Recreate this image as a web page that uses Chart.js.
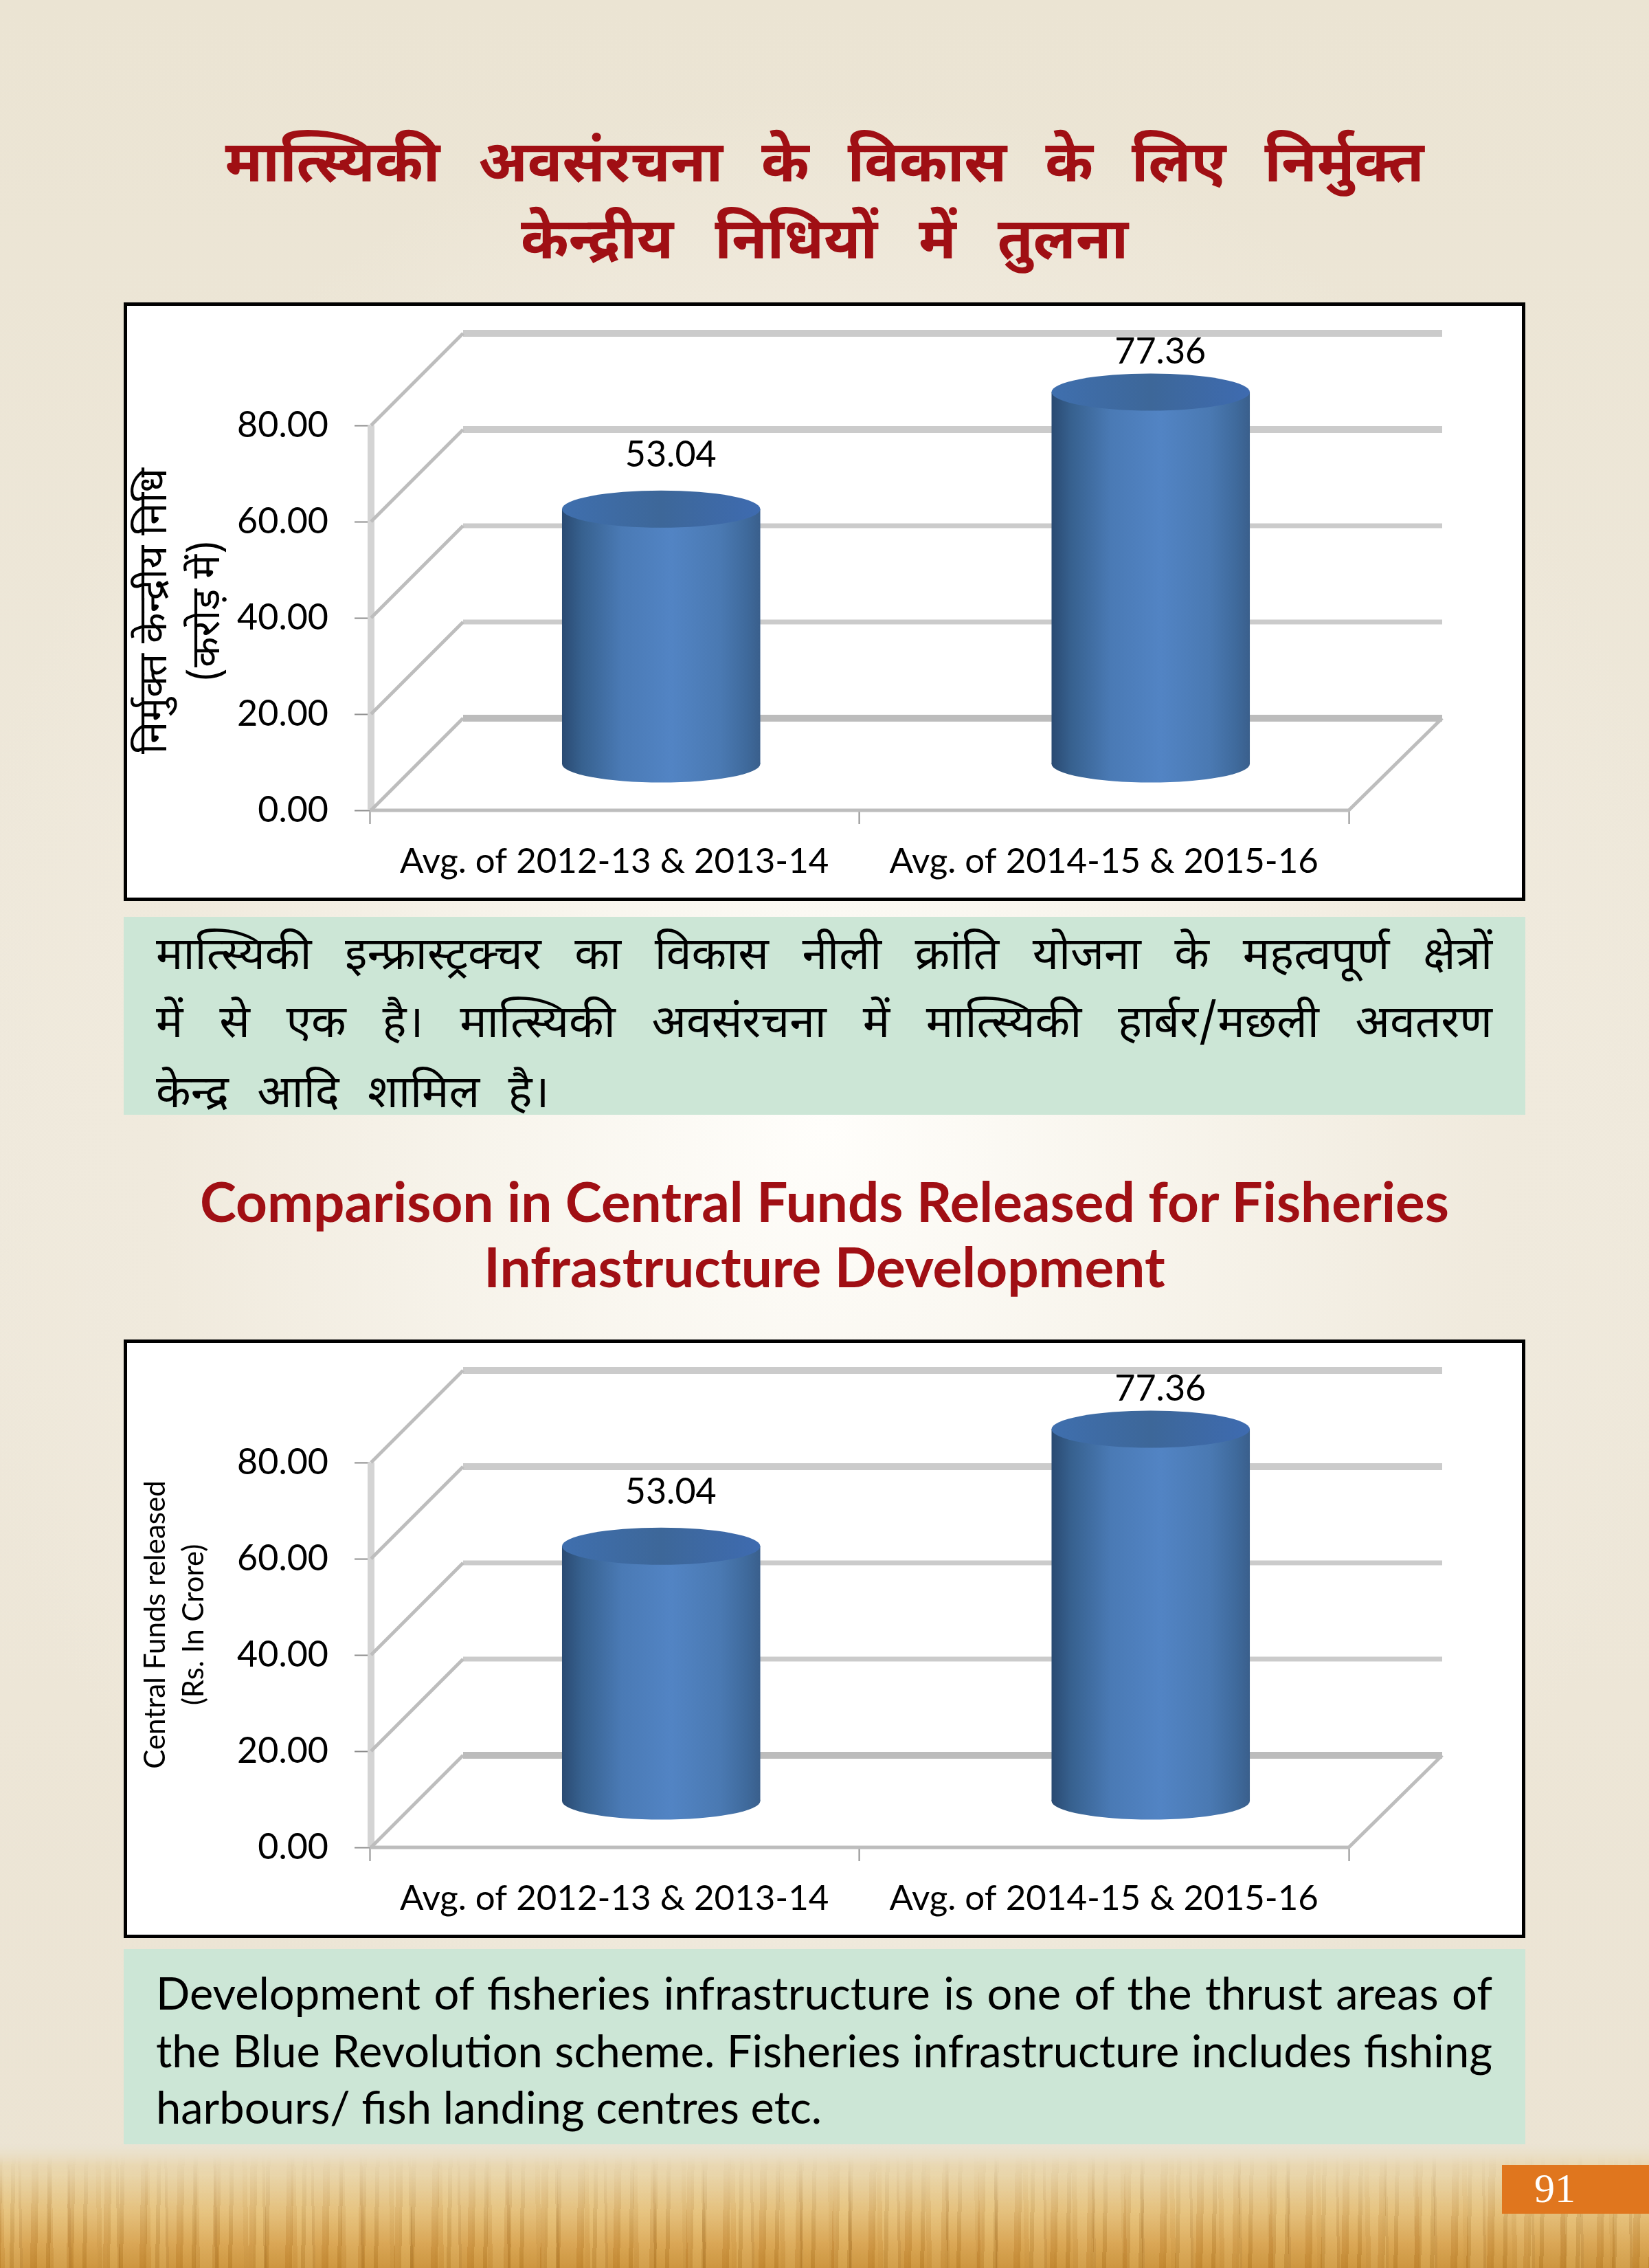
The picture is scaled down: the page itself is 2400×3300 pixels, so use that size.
<!DOCTYPE html>
<html>
<head>
<meta charset="utf-8">
<script src="https://cdn.jsdelivr.net/npm/chart.js@4"></script>
<style>
  html, body { margin: 0; padding: 0; }
  body {
    position: relative; width: 2400px; height: 3300px; overflow: hidden;
    background:
      radial-gradient(ellipse 1300px 1500px at 1200px 1640px, #fffefb 0%, #f8f5ed 35%, #f0eadd 75%, rgba(237,230,214,0) 100%),
      linear-gradient(#ebe4d3, #efe9dc 50%, #ebe3d2);
  }
  #wheat {
    position: absolute; left: 0; top: 3120px; width: 2400px; height: 180px;
    background: linear-gradient(rgba(233,222,196,1) 0%, rgba(233,213,170,1) 25%, #e3bd78 55%, #d7a14e 80%, #c98f35 100%);
    -webkit-mask-image: linear-gradient(transparent 0, #000 30px);
  }
  #wheat::before {
    content: ""; position: absolute; inset: 0;
    background:
      repeating-linear-gradient(91deg, rgba(150,95,20,.16) 0 4px, rgba(255,230,160,.10) 4px 17px, rgba(120,75,10,.12) 17px 23px, rgba(255,240,190,.08) 23px 47px, rgba(160,100,30,.14) 47px 53px),
      repeating-linear-gradient(89deg, rgba(170,110,30,.12) 0 7px, rgba(255,235,170,.10) 7px 29px, rgba(130,80,20,.14) 29px 33px, rgba(0,0,0,0) 33px 71px);
    -webkit-mask-image: linear-gradient(transparent 15px, rgba(0,0,0,.45) 60px, #000 120px);
  }
  .abs { position: absolute; white-space: nowrap; }
  .box { position: absolute; left: 180px; width: 2030px; height: 861px; border: 5px solid #000; background: #fff; }
  .box canvas { display: block; }
  .note { position: absolute; left: 180px; width: 2040px; background: #cce6d6; }
  .line { position: absolute; left: 47px; width: 1945px; color: #000; }
  .just { white-space: normal; text-align: justify; text-align-last: justify; }
  .hi { font-family: "Noto Sans Devanagari", "Noto Sans", "Lohit Devanagari", FreeSans, sans-serif; }
  .en { font-family: Lato, "Open Sans", sans-serif; }
  .title { left: 0; width: 2400px; text-align: center; color: #a00f14; }
  #pageno { position: absolute; left: 2186px; top: 3150px; width: 214px; height: 71px; background: #e0761e; }
  #pageno span { position: absolute; left: 0; width: 154px; text-align: center; top: 0; color: #fff; font: 60px "Liberation Serif", serif; line-height: 68px; }
</style>
</head>
<body>
<div id="wheat"></div>

<div class="abs title hi" style="top:194px;font-size:84px;font-weight:700;line-height:100px;word-spacing:34px">मात्स्यिकी अवसंरचना के विकास के लिए निर्मुक्त</div>
<div class="abs title hi" style="top:306px;font-size:84px;font-weight:700;line-height:100px;word-spacing:38px">केन्द्रीय निधियों में तुलना</div>

<div class="box" style="top:440px"><canvas id="chartHindi" width="2030" height="861"></canvas></div>

<div class="note" style="top:1334px;height:288px">
  <div class="line just hi" style="top:24px;font-size:66px;line-height:72px">मात्स्यिकी इन्फ्रास्ट्रक्चर का विकास नीली क्रांति योजना के महत्वपूर्ण क्षेत्रों</div>
  <div class="line just hi" style="top:123px;font-size:66px;line-height:72px">में से एक है। मात्स्यिकी अवसंरचना में मात्स्यिकी हार्बर/मछली अवतरण</div>
  <div class="line hi" style="top:225px;font-size:66px;line-height:72px;word-spacing:24px">केन्द्र आदि शामिल है।</div>
</div>

<div class="abs title en" style="top:1701px;font-size:80px;font-weight:700;line-height:92px">Comparison in Central Funds Released for Fisheries</div>
<div class="abs title en" style="top:1796px;font-size:80px;font-weight:700;line-height:92px">Infrastructure Development</div>

<div class="box" style="top:1949px"><canvas id="chartEnglish" width="2030" height="861"></canvas></div>

<div class="note" style="top:2836px;height:284px">
  <div class="line just en" style="top:28px;font-size:65px;line-height:70px">Development of fisheries infrastructure is one of the thrust areas of</div>
  <div class="line just en" style="top:112px;font-size:65px;line-height:70px">the Blue Revolution scheme. Fisheries infrastructure includes fishing</div>
  <div class="line en" style="top:194px;font-size:65px;line-height:70px">harbours/ fish landing centres etc.</div>
</div>

<div id="pageno"><span>91</span></div>

<script>
// chart data
const categories = ['Avg. of 2012-13 & 2013-14', 'Avg. of 2014-15 & 2015-16'];
const fundsReleased = [53.04, 77.36];
const tickValues = [0, 20, 40, 60, 80];
const yTitleHindi = ['निर्मुक्त केन्द्रीय निधि', '(करोड़ में)'];
const yTitleEnglish = ['Central Funds released', '(Rs. In Crore)'];

// depth of the fake 3D box, back wall is shifted by this much
const backDx = 136;
const backDy = -134;
const barPct = 0.405;
const capRy = 27;

// Draws walls and cylinder caps around the normal bars
const box3d = {
  id: 'box3d',
  beforeDatasetsDraw(chart) {
    const { ctx, chartArea: area, scales: { y } } = chart;
    const opts = chart.options.plugins.box3d;
    ctx.save();
    ctx.lineCap = 'butt';

    // left wall
    ctx.strokeStyle = '#d4d4d4';
    ctx.lineWidth = 10;
    ctx.beginPath();
    ctx.moveTo(area.left + 2, y.getPixelForValue(80));
    ctx.lineTo(area.left + 2, y.getPixelForValue(0));
    ctx.stroke();

    tickValues.forEach(v => {
      const py = y.getPixelForValue(v);
      // back wall line
      ctx.strokeStyle = v === 0 ? '#bcbcbc' : '#cbcbcb';
      ctx.lineWidth = v === 40 || v === 20 ? 7 : 10;
      ctx.beginPath();
      ctx.moveTo(area.left + backDx, py + backDy);
      ctx.lineTo(area.right + backDx, py + backDy);
      ctx.stroke();
      // diagonal on the left wall
      ctx.strokeStyle = '#bdbdbd';
      ctx.lineWidth = 5;
      ctx.beginPath();
      ctx.moveTo(area.left + 2, py);
      ctx.lineTo(area.left + backDx, py + backDy);
      ctx.stroke();
    });

    // floor
    const y0 = y.getPixelForValue(0);
    ctx.strokeStyle = '#bdbdbd';
    ctx.lineWidth = 5;
    ctx.beginPath();
    ctx.moveTo(area.left, y0);
    ctx.lineTo(area.right, y0);
    ctx.lineTo(area.right + backDx, y0 + backDy);
    ctx.stroke();
    ctx.restore();

    // axis title, two rotated lines
    ctx.save();
    ctx.fillStyle = '#000';
    ctx.textAlign = 'center';
    ctx.textBaseline = 'middle';
    ctx.font = opts.titleFont;
    opts.titleLines.forEach((line, i) => {
      ctx.save();
      ctx.translate(opts.titleX[i], opts.titleY);
      ctx.rotate(-Math.PI / 2);
      ctx.fillText(line, 0, 0);
      ctx.restore();
    });
    ctx.restore();

    // everything in the datasets sits half way into the box
    ctx.save();
    ctx.translate(backDx / 2, backDy / 2);
    chart.getDatasetMeta(0).data.forEach(bar => {
      ctx.fillStyle = bodyGradient(ctx, bar.x, bar.width);
      ctx.beginPath();
      ctx.ellipse(bar.x, bar.base, bar.width / 2, capRy, 0, 0, Math.PI * 2);
      ctx.fill();
    });
  },
  afterDatasetsDraw(chart) {
    const { ctx } = chart;
    const labelLift = [-80, -60];
    chart.getDatasetMeta(0).data.forEach(bar => {
      const top = ctx.createLinearGradient(bar.x - bar.width / 2, 0, bar.x + bar.width / 2, 0);
      top.addColorStop(0, '#3f6fae');
      top.addColorStop(0.5, '#3d6799');
      top.addColorStop(1, '#3e6bb0');
      ctx.fillStyle = top;
      ctx.beginPath();
      ctx.ellipse(bar.x, bar.y, bar.width / 2, capRy, 0, 0, Math.PI * 2);
      ctx.fill();
    });
    ctx.restore();

    // value labels
    ctx.save();
    ctx.fillStyle = '#000';
    ctx.textAlign = 'center';
    ctx.textBaseline = 'middle';
    ctx.font = '52px Lato';
    chart.getDatasetMeta(0).data.forEach((bar, i) => {
      ctx.fillText(fundsReleased[i].toFixed(2), bar.x + backDx / 2 + 14, bar.y + backDy / 2 + labelLift[i] + 2);
    });
    ctx.restore();
  }
};

function bodyGradient(ctx, x, w) {
  const g = ctx.createLinearGradient(x - w / 2, 0, x + w / 2, 0);
  g.addColorStop(0, '#2a4a72');
  g.addColorStop(0.1, '#37618f');
  g.addColorStop(0.3, '#4a7ab5');
  g.addColorStop(0.55, '#5284c4');
  g.addColorStop(0.8, '#4a79b2');
  g.addColorStop(0.93, '#3f6a9c');
  g.addColorStop(1, '#3a5f8c');
  return g;
}

function makeChart(id, titleLines, titleFont, titleX, titleY) {
  return new Chart(document.getElementById(id), {
    type: 'bar',
    data: {
      labels: categories,
      datasets: [{
        data: fundsReleased,
        barPercentage: barPct,
        categoryPercentage: 1,
        borderWidth: 0,
        backgroundColor(c) {
          const xs = c.chart.scales.x;
          const w = (xs.width / categories.length) * barPct;
          const x = xs.getPixelForValue(c.dataIndex);
          // scales are not laid out yet on the first pass
          if (!Number.isFinite(x) || !Number.isFinite(w)) return '#4a7ab5';
          return bodyGradient(c.chart.ctx, x, w);
        }
      }]
    },
    options: {
      responsive: false,
      animation: false,
      events: [],
      layout: { padding: { top: 174, right: 252, left: 0, bottom: 0 } },
      plugins: {
        legend: { display: false },
        tooltip: { enabled: false },
        box3d: { titleLines, titleFont, titleX, titleY }
      },
      scales: {
        x: {
          afterFit(s) { s.height = 127; },
          border: { color: '#bdbdbd', width: 1 },
          grid: { drawOnChartArea: false, offset: true, color: '#8c8c8c', tickLength: 20, tickWidth: 2 },
          ticks: { color: '#000', font: { family: 'Lato', size: 51 }, padding: 24, maxRotation: 0, autoSkip: false }
        },
        y: {
          min: 0,
          max: 80,
          afterFit(s) { s.width = 353; },
          afterBuildTicks(s) { s.ticks = tickValues.map(value => ({ value })); },
          border: { display: false },
          grid: { drawOnChartArea: false, color: '#8c8c8c', tickLength: 22, tickWidth: 2 },
          ticks: { color: '#000', font: { family: 'Lato', size: 52 }, padding: 38, callback: v => v.toFixed(2) }
        }
      }
    },
    plugins: [box3d]
  });
}

makeChart('chartHindi', yTitleHindi, '58px "Noto Sans Devanagari", "Noto Sans", FreeSans, sans-serif', [46, 123], 444);
makeChart('chartEnglish', yTitleEnglish, '42px Lato', [41, 97], 410);
</script>
</body>
</html>
